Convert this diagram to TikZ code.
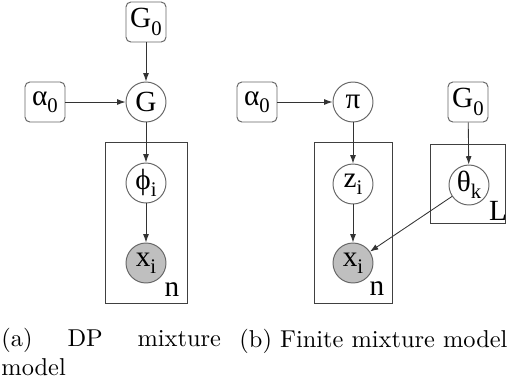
\documentclass[tikz,border=0pt]{standalone}
\usepackage{fontspec}
\usepackage{tikz}
\usetikzlibrary{arrows.meta,positioning}
\newfontfamily\gmfont{Liberation Serif}
\newcommand{\lowsub}[1]{\raisebox{-0.55ex}{\fontsize{8.5}{9}\selectfont #1}}
\definecolor{rimgray}{gray}{0.4}
\tikzstyle{latent}=[draw=rimgray,circle,minimum size=16.4pt,inner sep=0pt,line width=0.4pt,font=\gmfont\fontsize{12}{13}\selectfont]
\tikzstyle{obs}=[latent,fill=black!25]
\tikzstyle{const}=[draw=rimgray,rounded corners=2pt,minimum size=16.4pt,inner sep=0.5pt,line width=0.4pt,font=\gmfont\fontsize{12}{13}\selectfont]
\tikzstyle{plate}=[draw=black!75,line width=0.4pt]
\tikzstyle{platelabel}=[inner sep=0pt,font=\gmfont\fontsize{12}{13}\selectfont]
\tikzstyle{edge}=[-{Latex[length=3.4pt,width=2.4pt]},draw=black!80,line width=0.35pt]

\begin{document}
\begin{tikzpicture}[x=0.41pt,y=-0.41pt]
\useasboundingbox (0,0) rectangle (507,389);
% (a) DP mixture
\node [const] (GzeroA) at (146,22) {G\lowsub{0}};
\node [latent] (G) at (146,102) {G};
\node [const] (alphaA) at (45,102) {α\lowsub{0}};
\node [latent] (phi) at (146,183) {ϕ\lowsub{i}};
\node [obs] (xA) at (146,263) {x\lowsub{i}};
\draw [plate] (105,142) rectangle (187,303);
\node [platelabel] (nA) at (172,290) {n};
\draw [edge] (GzeroA) -- (G);
\draw [edge] (alphaA) -- (G);
\draw [edge] (G) -- (phi);
\draw [edge] (phi) -- (xA);
% (b) finite mixture
\node [const] (alphaB) at (257,102) {α\lowsub{0}};
\node [latent] (pi) at (353,102) {π};
\node [latent] (z) at (353,184) {z\lowsub{i}};
\node [obs] (xB) at (353,263) {x\lowsub{i}};
\node [const] (GzeroB) at (468,102) {G\lowsub{0}};
\node [latent] (theta) at (469,185) {θ\lowsub{k}};
\draw [plate] (314,142) rectangle (392,303);
\draw [plate] (430,144) rectangle (505,223);
\node [platelabel] (nB) at (377,289) {n};
\node [platelabel] (L) at (498,211) {L};
\draw [edge] (alphaB) -- (pi);
\draw [edge] (pi) -- (z);
\draw [edge] (z) -- (xB);
\draw [edge] (GzeroB) -- (theta);
\draw [edge] (theta) -- (xB);
% captions
\node [anchor=base west,inner sep=0pt,align=left,font=\fontsize{10}{11.5}\selectfont] (capA) at (1,375)
  {\makebox[90pt][s]{(a) DP mixture}\\model};
\node [anchor=base west,inner sep=0pt,font=\fontsize{10}{11.5}\selectfont] (capB) at (239,347)
  {(b) Finite mixture model};
\end{tikzpicture}
\end{document}
